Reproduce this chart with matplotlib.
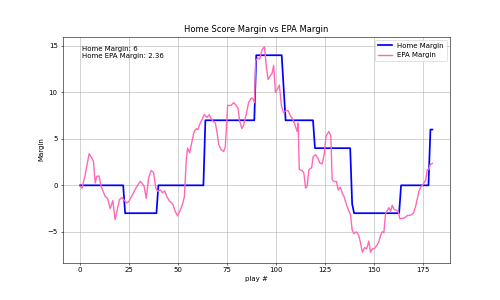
import matplotlib
matplotlib.use("Agg")
import matplotlib.pyplot as plt

# home score margin (points where the margin changes)
home_play = [0, 22, 23, 39, 40, 63, 64, 89, 90, 103, 105, 119, 120, 138, 139, 140, 163, 164, 178, 179, 180]
home_margin = [0, 0, -3, -3, 0, 0, 7, 7, 14, 14, 7, 7, 4, 4, -2, -3, -3, 0, 0, 6, 6]

# EPA margin
epa_play = [
    0, 1, 2.6, 4.6, 5.5, 6.8, 7.7, 8.5, 9.7, 10.7, 12.8, 14, 15.4, 16.7, 17.9, 19,
    20.1, 21.3, 22.7, 23.9, 25, 26.8, 28.5, 30.7, 31.5, 32.7, 33.8, 35, 36.3, 37.5,
    38.7, 39.7, 41, 42.1, 43.2, 44.3, 45.7, 47.3, 48.6, 49.8, 51.5, 52.5, 53.3,
    54.2, 54.9, 56, 57.2, 58.3, 59.4, 60.2, 61, 62.3, 63.5, 64.8, 66, 66.8, 67.9,
    69.1, 70, 70.8, 72, 73.4, 74.2, 75.4, 77.1, 78.5, 79.7, 80.7, 81.5, 82.7, 83.6,
    85, 86.1, 87.4, 88.4, 89.1, 89.7, 90.7, 91.8, 93, 94.2, 95.2, 96, 97.2, 98,
    98.9, 99.8, 100.7, 101.8, 102.9, 104, 104.9, 106.3, 107.5, 108.7, 109.7, 110.9,
    111.4, 112, 113.4, 114.3, 115.2, 116, 116.9, 118.3, 119.1, 120.3, 121.5, 122.5,
    123.7, 124.7, 125.7, 127.1, 128.1, 128.8, 129.8, 131, 131.9, 132.9, 133.9,
    135.1, 136.1, 137, 138.2, 139, 139.9, 141.2, 142.4, 143.3, 144.2, 145.4, 146.4,
    147.5, 148.4, 149.2, 150.4, 151.5, 152.7, 153.5, 154.4, 155.2, 156.1, 157,
    157.8, 158.7, 159.5, 160.4, 161.8, 162.6, 163.4, 164.6, 165.8, 167.2, 168.9,
    170.3, 171.4, 172.3, 173.1, 174.3, 175.3, 176.6, 177.4, 178.2, 178.8, 180,
]
epa_margin = [
    -0.1, -0.3, 1.15, 3.4, 3.1, 2.6, 0.25, 0.97, 1.0, -0.1, -1.2, -1.4, -2.5, -1.65, -3.7, -2.6,
    -1.55, -1.3, -1.65, -1.9, -1.7, -1.0, -0.3, 0.43, 0.25, -0.1, -1.4, 0.8, 1.6, 1.4,
    -0.3, -0.65, -0.5, -0.8, -0.6, -1.2, -1.7, -2.0, -2.8, -3.3, -2.5, -1.9, -1.2,
    2.6, 4.0, 3.5, 4.75, 5.8, 6.1, 6.0, 6.5, 7.1, 7.6, 7.3, 7.6, 7.25, 6.9,
    6.7, 5.65, 4.4, 3.85, 3.65, 4.2, 8.6, 8.6, 8.9, 8.6, 8.3, 6.9, 6.1, 6.5,
    7.8, 8.9, 9.4, 9.3, 8.9, 13.4, 13.7, 13.6, 14.6, 14.9, 12.7, 11.4, 11.8, 12.0,
    12.9, 10.0, 10.3, 10.8, 8.5, 7.8, 8.0, 8.05, 7.45, 7.1, 6.55, 5.8,
    6.7, 1.7, 1.6, 1.35, -0.3, -0.1, 1.7, 1.9, 3.1, 3.3, 2.9, 2.4,
    2.3, 3.3, 5.3, 5.8, 5.3, 0.6, 0.4, 0.4, -0.5, -0.2, -0.8,
    -1.35, -2.1, -2.6, -3.2, -4.8, -5.2, -5.0, -5.4, -6.2, -7.2, -6.7, -6.85,
    -6.0, -7.2, -6.85, -6.8, -6.5, -6.05, -5.4, -5.0, -5.1, -3.0, -2.7,
    -2.4, -2.8, -2.15, -2.6, -2.7, -2.85, -3.6, -3.55, -3.5, -3.25, -3.2,
    -3.0, -2.3, -1.4, -0.65, -0.1, 0.1, 0.6, 1.7, 1.7, 2.2, 2.36,
]

fig, ax = plt.subplots(figsize=(10, 6), dpi=50)
fig.subplots_adjust(left=0.125, right=0.9, bottom=0.125, top=0.878)

ax.plot(home_play, home_margin, color="blue", linewidth=2.5, label="Home Margin")
ax.plot(epa_play, epa_margin, color="hotpink", linewidth=2, label="EPA Margin")

ax.text(0.05, 0.96, f"Home Margin: {home_margin[-1]}\nHome EPA Margin: {epa_margin[-1]}",
        transform=ax.transAxes, va="top", ha="left")

ax.set_title("Home Score Margin vs EPA Margin")
ax.set_xlabel("play #")
ax.set_ylabel("Margin")
ax.grid(True)
ax.legend(loc="upper right")

fig.savefig("out.png", dpi=50)
